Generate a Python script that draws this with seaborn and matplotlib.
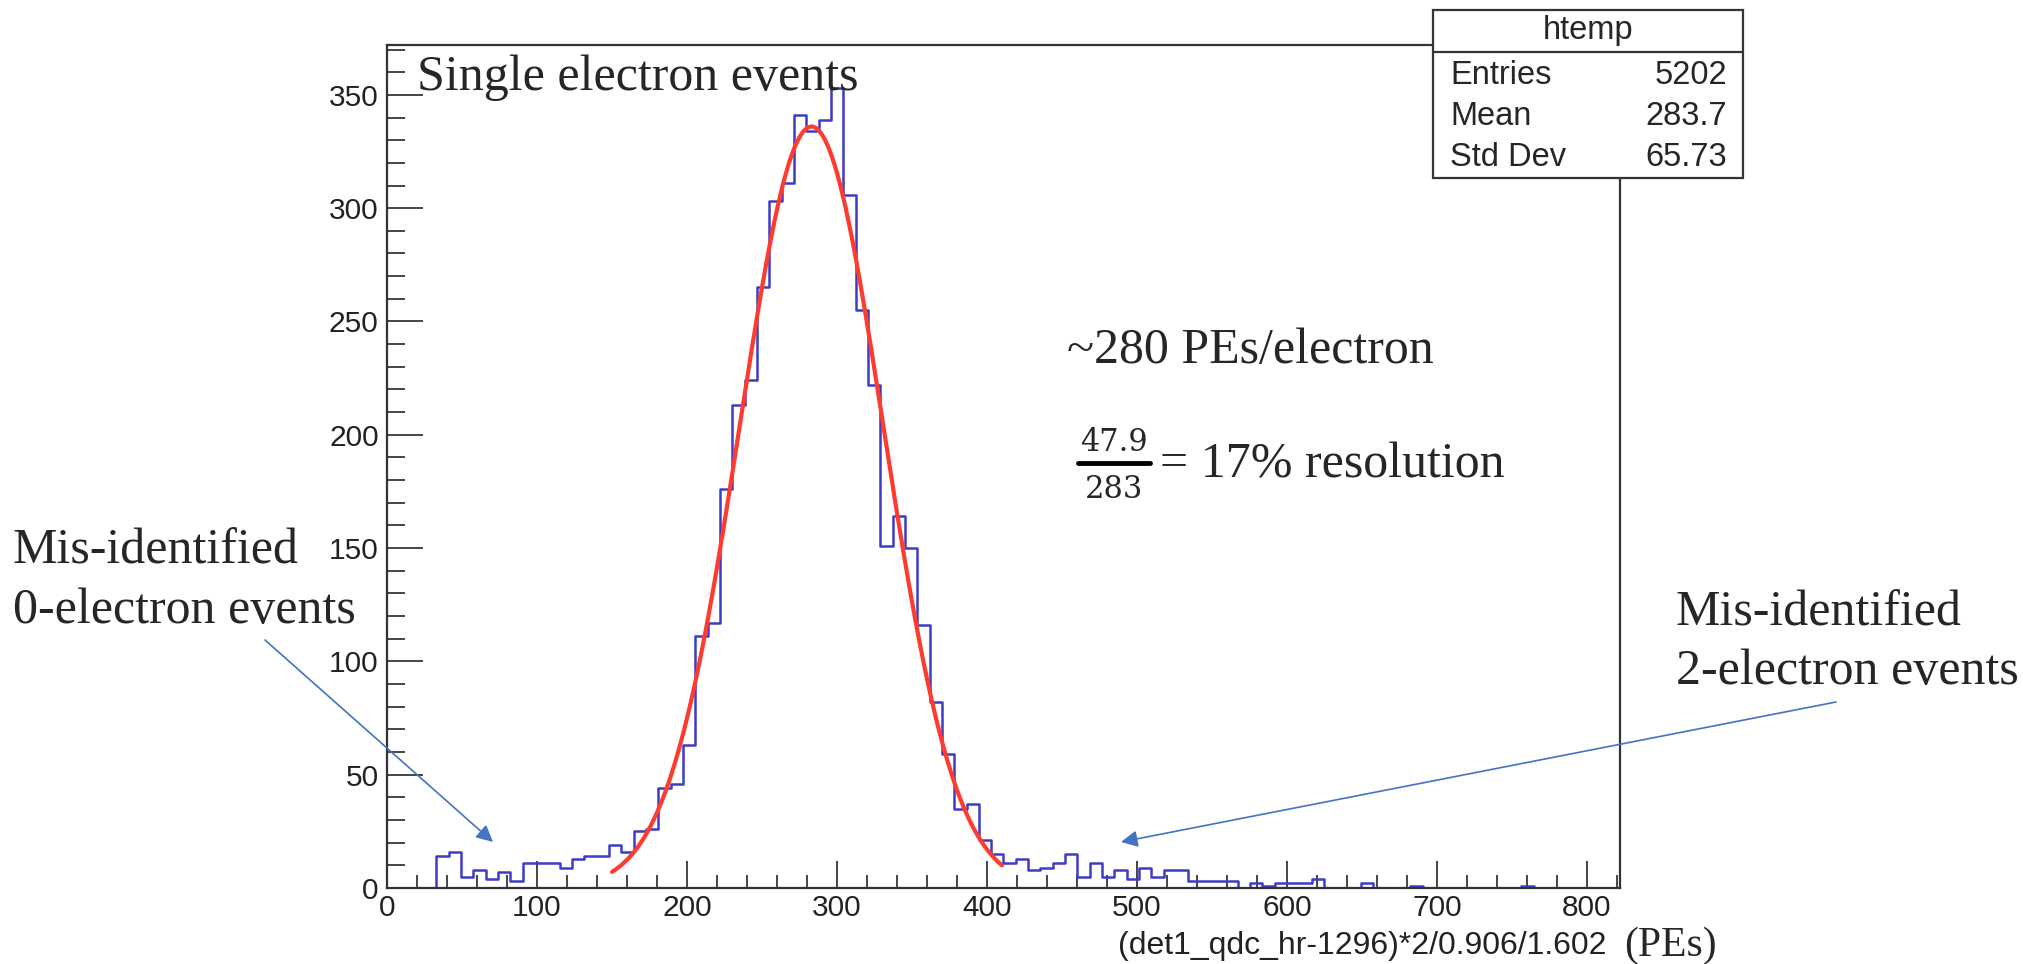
import numpy as np
import pandas as pd
import matplotlib
matplotlib.use("Agg")
import matplotlib.pyplot as plt
import seaborn as sns
from matplotlib.patches import Rectangle
from matplotlib.lines import Line2D
from matplotlib.ticker import MultipleLocator

# Histogram contents (100 bins from 0 to 822)
bin_width = 8.22
counts = [0, 0, 0, 0, 14, 16, 5, 8, 4, 7,
          3, 11, 11, 11, 9, 13, 14, 14, 19, 16,
          25, 26, 44, 46, 63, 111, 117, 176, 213, 224,
          265, 303, 311, 341, 334, 339, 353, 306, 255, 222,
          151, 164, 150, 116, 82, 59, 35, 37, 21, 15,
          11, 13, 8, 9, 11, 15, 5, 11, 5, 8,
          4, 9, 5, 8, 8, 3, 3, 3, 3, 0,
          2, 1, 2, 2, 2, 4, 0, 0, 0, 2,
          0, 0, 0, 1, 0, 0, 0, 0, 0, 0,
          0, 0, 1, 0, 0, 0, 0, 0, 0, 0]

# Gaussian fit parameters and range
fit_const = 336
fit_mean = 283
fit_sigma = 47.9
fit_range = (150, 410)

# Stats box
stats_title = "htemp"
stats_names = ["Entries", "Mean", "Std Dev"]
stats_values = ["5202", "283.7", "65.73"]

W, H = 2024, 964
sns.set_style("ticks")
plt.rcParams["font.family"] = ["Liberation Sans", "DejaVu Sans"]

fig = plt.figure(figsize=(W / 100, H / 100), dpi=100)
ax = fig.add_axes([387 / W, 1 - 888 / H, (1620 - 387) / W, (888 - 45) / H])

x_max = len(counts) * bin_width
hist_df = pd.DataFrame({"pe": (np.arange(len(counts)) + 0.5) * bin_width, "n": counts})
sns.histplot(data=hist_df, x="pe", weights="n", binwidth=bin_width, binrange=(0, x_max),
             element="step", fill=False, color="#3c3cc4", linewidth=1.8, ax=ax)

x_fit = np.linspace(fit_range[0], fit_range[1], 400)
y_fit = fit_const * np.exp(-0.5 * ((x_fit - fit_mean) / fit_sigma) ** 2)
sns.lineplot(x=x_fit, y=y_fit, color="#ff3b30", linewidth=3, ax=ax)

ax.set_xlim(0, x_max)
ax.set_ylim(0, 372)
ax.set_xlabel("")
ax.set_ylabel("")
ax.xaxis.set_major_locator(MultipleLocator(100))
ax.xaxis.set_minor_locator(MultipleLocator(20))
ax.yaxis.set_major_locator(MultipleLocator(50))
ax.yaxis.set_minor_locator(MultipleLocator(10))
for s in ax.spines.values():
    s.set_color("#333333")
    s.set_linewidth(1.6)
ax.tick_params(axis="both", which="both", direction="in", color="#444444",
               width=1.4, labelsize=21.5, labelcolor="#222222", top=False, right=False)
ax.tick_params(axis="x", which="major", length=19.5, pad=4)
ax.tick_params(axis="x", which="minor", length=9.5)
ax.tick_params(axis="y", which="major", length=26, pad=6)
ax.tick_params(axis="y", which="minor", length=13)


def fp(x, y):
    return x / W, 1 - y / H


serif = ["Liberation Serif", "DejaVu Serif"]

# Axis title and unit
fig.text(*fp(1607, 946), "(det1_qdc_hr-1296)*2/0.906/1.602", ha="right", va="center",
         fontsize=23, color="#222222")
fig.text(*fp(1624, 946), "(PEs)", ha="left", va="center", fontsize=30, family=serif)

# Annotations
fig.text(*fp(417, 90), "Single electron events", ha="left", va="baseline", fontsize=36, family=serif)
fig.text(*fp(1067, 363), "~280 PEs/electron", ha="left", va="baseline", fontsize=36, family=serif)
fig.text(*fp(1114, 443), "47.9", ha="center", va="center", fontsize=22, family=["DejaVu Serif"])
fig.text(*fp(1114, 489), "283", ha="center", va="center", fontsize=22, family=["DejaVu Serif"])
fig.add_artist(Line2D([1078 / W, 1150 / W], [1 - 463 / H, 1 - 463 / H], color="black", linewidth=3.5))
fig.text(*fp(1160, 477), "= 17% resolution", ha="left", va="baseline", fontsize=36, family=serif)

fig.text(*fp(13, 563), "Mis-identified", ha="left", va="baseline", fontsize=36, family=serif)
fig.text(*fp(13, 623), "0-electron events", ha="left", va="baseline", fontsize=36, family=serif)
fig.text(*fp(1676, 625), "Mis-identified", ha="left", va="baseline", fontsize=36, family=serif)
fig.text(*fp(1676, 684), "2-electron events", ha="left", va="baseline", fontsize=36, family=serif)

arrow_kw = dict(arrowstyle="-|>,head_length=1.0,head_width=0.5", color="#4472c4", lw=1.2,
                shrinkA=0, shrinkB=0)
ax.annotate("", xy=(493, H - 842), xytext=(265, H - 640), xycoords="figure pixels",
            textcoords="figure pixels", arrowprops=arrow_kw, annotation_clip=False)
ax.annotate("", xy=(1121, H - 842), xytext=(1836, H - 702), xycoords="figure pixels",
            textcoords="figure pixels", arrowprops=arrow_kw, annotation_clip=False)

# Stats box
bx0, bx1, by0, by1 = 1433, 1743, 10, 178
fig.add_artist(Rectangle(fp(bx0, by1), (bx1 - bx0) / W, (by1 - by0) / H, facecolor="white",
                         edgecolor="#333333", linewidth=1.6, zorder=5))
fig.add_artist(Line2D([bx0 / W, bx1 / W], [1 - 52 / H, 1 - 52 / H], color="#333333",
                      linewidth=1.6, zorder=6))
fig.text(*fp((bx0 + bx1) / 2, 31), stats_title, ha="center", va="center", fontsize=23.5, zorder=7)
for i, (n, v) in enumerate(zip(stats_names, stats_values)):
    y = 75 + i * 41.5
    fig.text(*fp(1450, y), n, ha="left", va="center", fontsize=23.5, zorder=7)
    fig.text(*fp(1727, y), v, ha="right", va="center", fontsize=23.5, zorder=7)

fig.savefig("out.png", dpi=100, facecolor="white")
